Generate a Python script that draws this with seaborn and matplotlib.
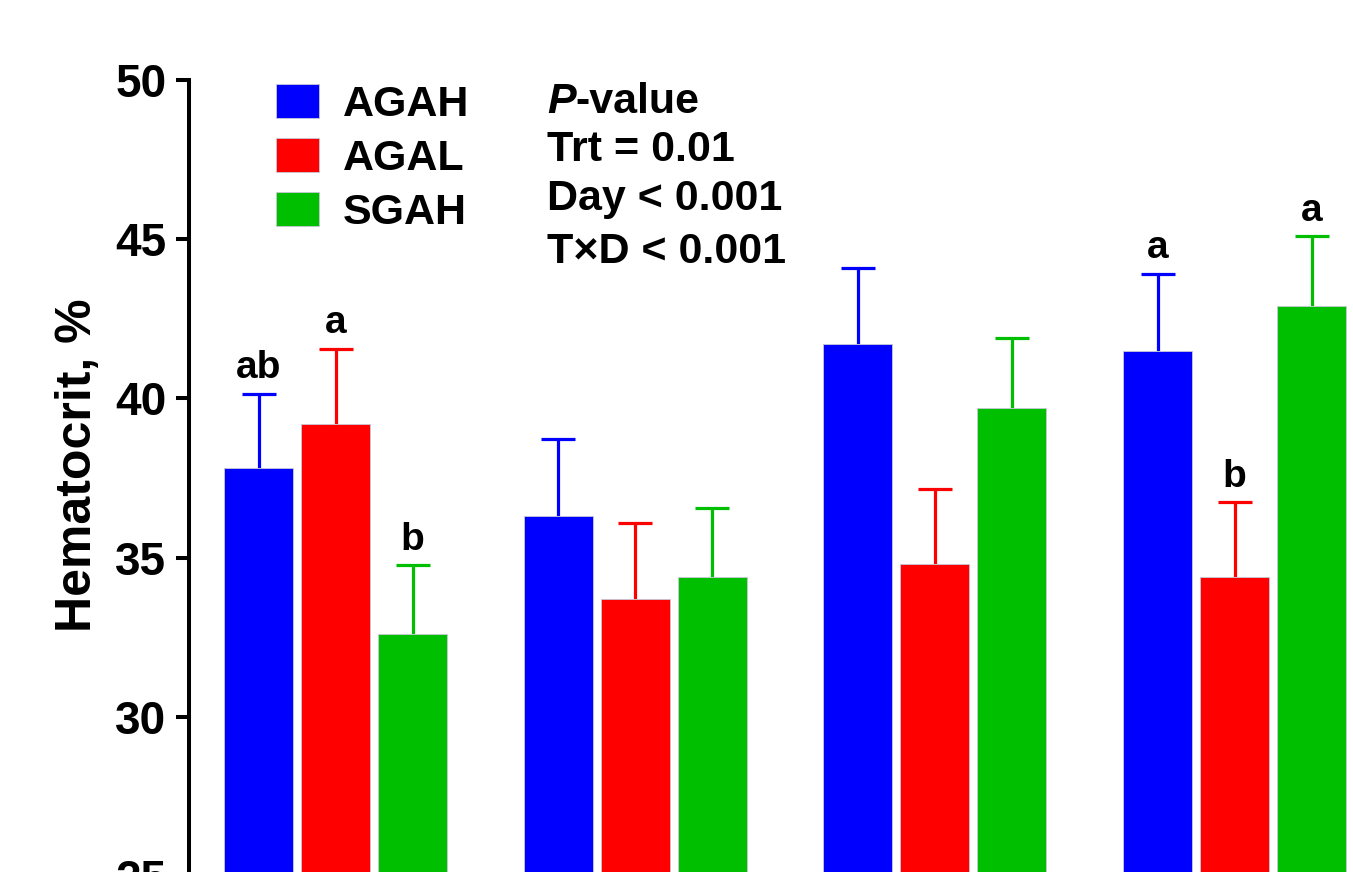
import pandas as pd
import matplotlib.pyplot as plt
import seaborn as sns

# Hematocrit means and SEM
days = ["Day 1", "Day 2", "Day 3", "Day 4"]
treatments = ["AGAH", "AGAL", "SGAH"]
agah_mean = [37.8, 36.3, 41.7, 41.5]
agal_mean = [39.2, 33.7, 34.8, 34.4]
sgah_mean = [32.6, 34.4, 39.7, 42.9]
agah_sem = [2.35, 2.42, 2.39, 2.42]
agal_sem = [2.36, 2.38, 2.36, 2.35]
sgah_sem = [2.17, 2.17, 2.20, 2.20]
agah_letters = ["ab", "", "", "a"]
agal_letters = ["a", "", "", "b"]
sgah_letters = ["b", "", "", "a"]
pvalue_lines = ["Trt = 0.01", "Day < 0.001", "T\u00d7D < 0.001"]

colors = {"AGAH": "#0000FF", "AGAL": "#FF0000", "SGAH": "#00BF00"}
means = {"AGAH": agah_mean, "AGAL": agal_mean, "SGAH": sgah_mean}
sems = {"AGAH": agah_sem, "AGAL": agal_sem, "SGAH": sgah_sem}
letters = {"AGAH": agah_letters, "AGAL": agal_letters, "SGAH": sgah_letters}

rows = []
for t in treatments:
    for d, m in zip(days, means[t]):
        rows.append({"day": d, "trt": t, "value": m})
df = pd.DataFrame(rows)

sns.set_theme(style="ticks")
plt.rcParams["font.family"] = ["Liberation Sans", "DejaVu Sans"]
plt.rcParams["font.weight"] = "bold"
plt.rcParams["text.color"] = "black"
plt.rcParams["axes.labelcolor"] = "black"
plt.rcParams["ytick.color"] = "black"

W, H = 1353, 872
fig = plt.figure(figsize=(W / 100, H / 100), dpi=100)
ax = fig.add_axes([189 / W, -4 / H, (W - 189) / W, 796 / H])

sns.barplot(data=df, x="day", y="value", hue="trt", order=days,
            hue_order=treatments, palette=colors, saturation=1,
            width=0.771, gap=0.105, errorbar=None, edgecolor="#c8c8d8",
            linewidth=0.6, ax=ax)

# upper error bars + significance letters
for cont, t in zip(ax.containers, treatments):
    xs = [p.get_x() + p.get_width() / 2 for p in cont.patches]
    ys = [p.get_height() for p in cont.patches]
    eb = ax.errorbar(xs, ys, yerr=[[0] * len(ys), sems[t]], fmt="none",
                     ecolor=colors[t], elinewidth=2.3, capsize=12.2,
                     capthick=2.3, zorder=0.9)
    # drop the caps sitting on the bar tops
    for cap in eb[1]:
        if list(cap.get_ydata()) == ys:
            cap.set_visible(False)
    for x, y, s, lab in zip(xs, ys, sems[t], letters[t]):
        if lab:
            ax.annotate(lab, (x, y + s), xytext=(0, 11),
                        textcoords="offset points", ha="center",
                        va="baseline", fontsize=28, fontweight="bold")

ax.set_ylim(25, 50)
ax.set_xlim(-0.489, 3.395)
ax.set_yticks([25, 30, 35, 40, 45, 50])
ax.set_xticks([])
ax.set_xlabel("")
ax.set_ylabel("")
for s in ["top", "right", "bottom"]:
    ax.spines[s].set_visible(False)
ax.spines["left"].set_linewidth(2.9)
ax.spines["left"].set_color("black")
ax.tick_params(axis="y", length=9.4, width=2.9, pad=7, labelsize=33,
               colors="black")

fig.text(78 / W, 1 - 465 / H, "Hematocrit, %", rotation=90, ha="center",
         va="center", fontsize=36, fontweight="bold")

sns.move_legend(ax, "upper left", bbox_to_anchor=(276 / W, 1 - 84 / H),
                bbox_transform=fig.transFigure, frameon=False, title=None,
                fontsize=31, handlelength=1.0, handleheight=0.85,
                handletextpad=0.56, labelspacing=0.3, borderpad=0,
                borderaxespad=0)

# P-value block
ptxt = fig.text(547 / W, 1 - 113 / H, "P", style="italic", fontsize=31,
                fontweight="bold", va="baseline")
ax.annotate("-value", xy=(1, 0), xycoords=ptxt, ha="left", va="bottom",
            fontsize=31, fontweight="bold")
for line, yb in zip(pvalue_lines, [161, 210, 263]):
    fig.text(547 / W, 1 - yb / H, line, fontsize=31, fontweight="bold",
             va="baseline")

plt.savefig("out.png", dpi=100)
plt.close()
